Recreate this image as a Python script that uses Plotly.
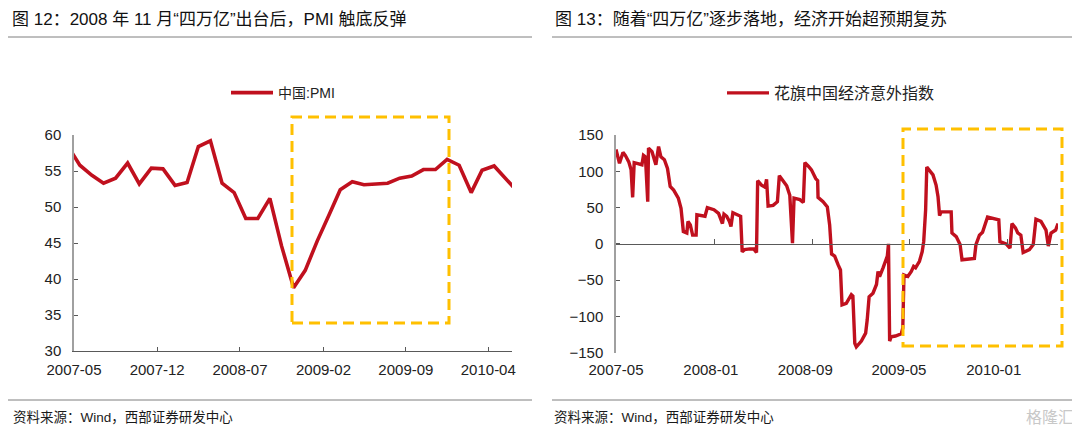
import plotly.graph_objects as go
import pandas as pd

# ---------------- data: left chart (China PMI, monthly) ----------------
pmi_months = [
    "2007-04", "2007-05", "2007-06", "2007-07", "2007-08", "2007-09", "2007-10", "2007-11", "2007-12",
    "2008-01", "2008-02", "2008-03", "2008-04", "2008-05", "2008-06", "2008-07", "2008-08", "2008-09",
    "2008-10", "2008-11", "2008-12",
    "2009-01", "2009-02", "2009-03", "2009-04", "2009-05", "2009-06", "2009-07", "2009-08", "2009-09",
    "2009-10", "2009-11", "2009-12",
    "2010-01", "2010-02", "2010-03", "2010-04", "2010-05", "2010-06",
]
pmi_values = [
    58.4, 55.8, 54.4, 53.3, 54.0, 56.1, 53.2, 55.4, 55.3,
    53.0, 53.4, 58.4, 59.2, 53.3, 52.0, 48.4, 48.4, 51.2,
    44.6, 38.8, 41.2,
    45.3, 49.0, 52.4, 53.5, 53.1, 53.2, 53.3, 54.0, 54.3,
    55.2, 55.2, 56.6,
    55.8, 52.0, 55.1, 55.7, 53.9, 52.1,
]
pmi_tick_dates = ["2007-05-01", "2007-12-01", "2008-07-01", "2009-02-01", "2009-09-01", "2010-04-01"]
pmi_tick_text = ["2007-05", "2007-12", "2008-07", "2009-02", "2009-09", "2010-04"]

# ---------------- data: right chart (Citi economic surprise index, China) ----------------
citi_start = "2007-05-01"
citi_day = [
    0, 9, 18, 24, 33, 39, 43, 47, 54, 67, 71, 76, 82, 84, 93, 103, 110, 116, 125, 133,
    140, 149, 161, 168, 174, 183, 186, 192, 198, 207, 209, 230, 236, 253, 265, 269, 275, 279, 286, 293,
    297, 302, 312, 322, 326, 332, 346, 356, 363, 366, 376, 385, 389, 393, 406, 417, 422, 430, 441, 449,
    456, 460, 475, 484, 488, 497, 505, 516, 521, 522, 535, 546, 552, 557, 565, 574, 580, 584, 595, 608,
    612, 617, 621, 634, 645, 649, 654, 664, 673, 677, 681, 690, 701, 704, 707, 711, 722, 737, 741, 744,
    754, 763, 769, 774, 784, 791, 795, 800, 803, 819, 827, 832, 836, 840, 857, 866, 868, 879, 889, 894,
    926, 930, 939, 947, 960, 973, 989, 992, 1008, 1018, 1023, 1032, 1038, 1046, 1052, 1068, 1078, 1085, 1098, 1111,
    1117, 1124, 1136, 1142,
]
citi_values = [
    130, 111, 126, 122, 113, 102, 64, 112, 111, 109, 122, 120, 58, 132, 127, 109, 134, 120, 116, 104,
    79, 74, 63, 49, 17, 15, 31, 26, 12, 12, 40, 38, 50, 47, 42, 35, 28, 41, 38, 31,
    24, 43, 41, 38, -11, -8, -7, -7, -12, 87, 81, 78, 89, 52, 53, 58, 94, 88, 80, 67,
    1, 63, 61, 57, 112, 107, 102, 90, 87, 64, 58, 51, 26, -14, -17, -29, -36, -84, -82, -70,
    -72, -137, -142, -134, -123, -105, -73, -68, -56, -38, -45, -33, -17, 0, -134, -128, -127, -124, -116, -43,
    -45, -38, -31, -33, -24, -11, 3, 47, 106, 95, 81, 65, 39, 44, 44, 44, 15, 10, -1, -22,
    -20, -1, 12, 16, 37, 35, 33, 3, 0, -6, 28, 22, 15, 12, -12, -8, -1, 34, 31, 19,
    -3, 15, 19, 28,
]
citi_label_dates = ["2007-05-01", "2008-01-01", "2008-09-01", "2009-05-01", "2010-01-01"]
citi_label_text = ["2007-05", "2008-01", "2008-09", "2009-05", "2010-01"]
citi_tick_dates = ["2008-01-10", "2008-09-19", "2009-05-28", "2010-02-06"]

# ---------------- derived ----------------
pmi_x = pd.to_datetime(pmi_months) + pd.Timedelta(days=15)
citi_x = pd.Timestamp(citi_start) + pd.to_timedelta(citi_day, unit="D")

# the page body has an 8px margin, so the figure is sized to fill the rest of the window
OFF = 8
W, H = 1080 - OFF, 434 - OFF
FONT = "Liberation Sans, Arial, Noto Sans CJK SC, sans-serif"
RED = "#C0101E"
GOLD = "#FFC000"
AXIS_DARK = "#595959"
AXIS_GRAY = "#A0A0A0"


def px_x(v):
    """window pixel -> paper x"""
    return (v - OFF) / W


def px_y(v):
    """window pixel -> paper y"""
    return 1 - (v - OFF) / H


fig = go.Figure()

fig.add_trace(go.Scatter(
    x=pmi_x, y=pmi_values, mode="lines", name="中国:PMI",
    line=dict(color=RED, width=3.6), xaxis="x", yaxis="y", legend="legend",
))
fig.add_trace(go.Scatter(
    x=citi_x, y=citi_values, mode="lines", name="花旗中国经济意外指数",
    line=dict(color=RED, width=3.4), xaxis="x2", yaxis="y2", legend="legend2",
))
# helper trace so the zero-line axis (x3) is drawn
fig.add_trace(go.Scatter(
    x=[citi_x[0]], y=[None], mode="lines", showlegend=False, hoverinfo="skip",
    xaxis="x3", yaxis="y2",
))

tickfont = dict(family=FONT, size=15, color="#222222")

fig.update_layout(
    template="none",
    width=W, height=H,
    margin=dict(l=0, r=0, t=0, b=0, autoexpand=False),
    paper_bgcolor="white", plot_bgcolor="white",
    font=dict(family=FONT, color="#222222"),
    xaxis=dict(
        domain=[px_x(74), px_x(512)], anchor="y", automargin=False,
        type="date", range=["2007-05-01", "2010-06-01"],
        tickvals=pmi_tick_dates, ticktext=pmi_tick_text,
        ticks="inside", ticklen=4, tickcolor=AXIS_DARK, tickwidth=1,
        showline=True, linecolor=AXIS_DARK, linewidth=1,
        showgrid=False, zeroline=False, tickfont=tickfont, ticklabelstandoff=5,
    ),
    yaxis=dict(
        domain=[px_y(351), px_y(135)], anchor="x", automargin=False,
        range=[30, 60], tickvals=[30, 35, 40, 45, 50, 55, 60],
        ticks="inside", ticklen=4, tickcolor=AXIS_DARK, tickwidth=1,
        showline=True, linecolor=AXIS_GRAY, linewidth=1.5,
        showgrid=False, zeroline=False, tickfont=tickfont, ticklabelstandoff=8,
    ),
    xaxis2=dict(
        domain=[px_x(616), px_x(1058)], anchor="y2", automargin=False,
        type="date", range=["2007-05-01", "2010-06-16"],
        tickvals=citi_label_dates, ticktext=citi_label_text,
        ticks="", showline=False,
        showgrid=False, zeroline=False, tickfont=tickfont, ticklabelstandoff=6,
    ),
    xaxis3=dict(
        overlaying="x2", anchor="free", position=px_y(243.8), automargin=False,
        type="date", range=["2007-05-01", "2010-06-16"],
        tickvals=citi_tick_dates, showticklabels=False,
        ticks="inside", ticklen=5, tickcolor=AXIS_DARK, tickwidth=1,
        showline=True, linecolor=AXIS_DARK, linewidth=1,
        showgrid=False, zeroline=False,
    ),
    yaxis2=dict(
        domain=[px_y(352.7), px_y(135)], anchor="x2", automargin=False,
        range=[-150, 150], tickvals=[-150, -100, -50, 0, 50, 100, 150],
        ticks="inside", ticklen=4, tickcolor=AXIS_DARK, tickwidth=1,
        showline=True, linecolor=AXIS_GRAY, linewidth=1.5,
        showgrid=False, zeroline=False, tickfont=tickfont, ticklabelstandoff=8,
    ),
    legend=dict(
        x=px_x(226), y=px_y(93), xanchor="left", yanchor="middle",
        orientation="h", bgcolor="rgba(0,0,0,0)", itemwidth=42,
        font=dict(family=FONT, size=14, color="#222222"),
    ),
    legend2=dict(
        x=px_x(722), y=px_y(93), xanchor="left", yanchor="middle",
        orientation="h", bgcolor="rgba(0,0,0,0)", itemwidth=42,
        font=dict(family=FONT, size=16, color="#222222"),
    ),
    showlegend=True,
)

# dashed highlight boxes
fig.add_shape(
    type="rect", xref="x domain", yref="y domain",
    x0=(292 - 74) / 438, x1=(449 - 74) / 438,
    y0=(351 - 323) / 216, y1=(351 - 117) / 216,
    line=dict(color=GOLD, width=3, dash="11px,6px"), fillcolor="rgba(0,0,0,0)",
)
fig.add_shape(
    type="rect", xref="x2 domain", yref="y2 domain",
    x0=(903 - 616) / 442, x1=(1062 - 616) / 442,
    y0=(352.7 - 346) / 217.7, y1=(352.7 - 129) / 217.7,
    line=dict(color=GOLD, width=3, dash="11px,6px"), fillcolor="rgba(0,0,0,0)",
)

# header / footer rules
for x0, x1 in [(8, 532), (552, 1075)]:
    for yy in (37, 400):
        fig.add_shape(type="line", xref="paper", yref="paper",
                      x0=px_x(x0), x1=px_x(x1), y0=px_y(yy), y1=px_y(yy),
                      line=dict(color="#7F7F7F", width=1))

# titles
titles = [
    (10, "图 12：2008 年 11 月“四万亿”出台后，PMI 触底反弹"),
    (553, "图 13：随着“四万亿”逐步落地，经济开始超预期复苏"),
]
for xx, txt in titles:
    fig.add_annotation(text=txt, xref="paper", yref="paper", x=px_x(xx), y=px_y(20),
                       xanchor="left", yanchor="middle", showarrow=False,
                       font=dict(family=FONT, size=17, color="#111111"))

# sources
for xx in (11, 552):
    fig.add_annotation(text="资料来源：Wind，西部证券研发中心", xref="paper", yref="paper",
                       x=px_x(xx), y=px_y(417), xanchor="left", yanchor="middle",
                       showarrow=False, font=dict(family=FONT, size=13.5, color="#1A1A1A"))

# watermark
fig.add_annotation(text="格隆汇", xref="paper", yref="paper", x=px_x(1076), y=px_y(417),
                   xanchor="right", yanchor="middle", showarrow=False,
                   font=dict(family=FONT, size=16, color="#C8C8C8"))

fig.write_html("out.html")
